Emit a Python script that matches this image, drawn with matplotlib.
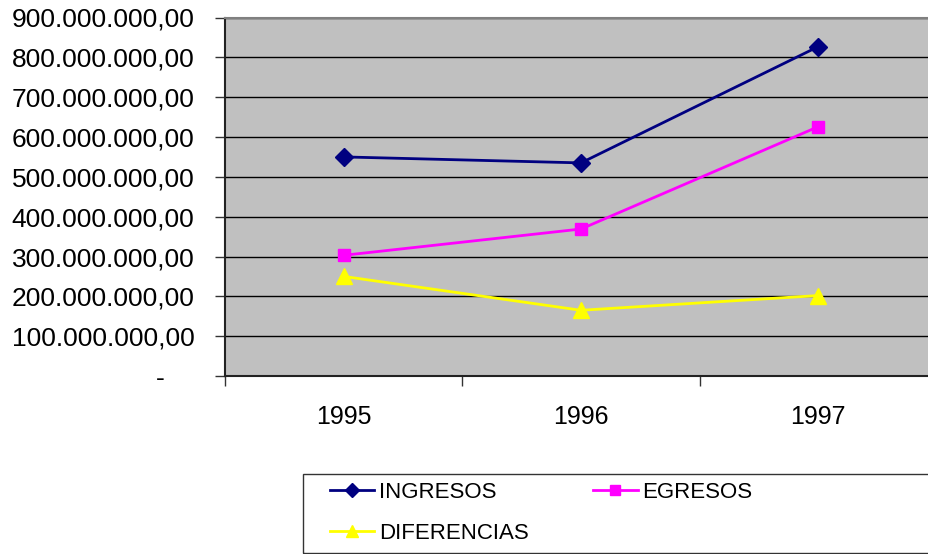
import numpy as np
import matplotlib.pyplot as plt
from matplotlib.patches import Rectangle
from matplotlib.ticker import FuncFormatter, FixedLocator

# -----------------------------------------------------------------------
# Data
# -----------------------------------------------------------------------
years = ['1995', '1996', '1997']
ingresos = [550e6, 535e6, 827e6]
egresos = [303e6, 369e6, 626e6]
diferencias = [250e6, 165e6, 202e6]

plt.rcParams['font.family'] = ['Liberation Sans', 'DejaVu Sans']

W, H = 929, 554
fig = plt.figure(figsize=(W / 100, H / 100), dpi=100)

# plot area runs slightly past the right edge, as in the reference
left, right, top, bottom = 225, 937, 17.5, 376
ax = fig.add_axes([left / W, 1 - bottom / H, (right - left) / W, (bottom - top) / H])
ax.set_facecolor('#C0C0C0')

x = np.arange(len(years))
l1, = ax.plot(x, ingresos, color='#000080', lw=2, marker='D', ms=9, label='INGRESOS')
l2, = ax.plot(x, egresos, color='#FF00FF', lw=2, marker='s', ms=9, label='EGRESOS')
l3, = ax.plot(x, diferencias, color='#FFFF00', lw=2, marker='^', ms=11, label='DIFERENCIAS')

ax.set_xlim(-0.5, len(years) - 0.5)
ax.set_ylim(0, 900e6)
ax.set_yticks(np.arange(0, 901e6, 100e6))


def fmt(v, pos):
    if v == 0:
        return '-    '
    s = f'{v:,.2f}'
    return s.replace(',', 'X').replace('.', ',').replace('X', '.')


ax.yaxis.set_major_formatter(FuncFormatter(fmt))
ax.grid(axis='y', color='black', lw=1)
ax.set_axisbelow(True)

ax.set_xticks(x)
ax.set_xticklabels(years)
ax.xaxis.set_minor_locator(FixedLocator(np.arange(-0.5, len(years), 1.0)))
ax.tick_params(axis='x', which='major', length=0, pad=21, labelsize=18)
ax.tick_params(axis='x', which='minor', length=7, width=1, direction='out', color='#333333')
ax.tick_params(axis='y', length=7, width=1, direction='out', labelsize=19, pad=15, color='#333333')

for side in ['left', 'bottom']:
    ax.spines[side].set_color('#222222')
    ax.spines[side].set_linewidth(1.5)
ax.spines['top'].set_color('#808080')
ax.spines['top'].set_linewidth(1.5)
ax.spines['right'].set_visible(False)

# legend box (runs off the right edge like the plot area)
fig.patches.append(Rectangle((303 / W, 1 - 553 / H), (940 - 303) / W, (553 - 474) / H,
                             transform=fig.transFigure, fill=False,
                             edgecolor='#333333', lw=1))

# row-major order: INGRESOS, EGRESOS / DIFERENCIAS
fig.legend([l1, l3, l2], ['INGRESOS', 'DIFERENCIAS', 'EGRESOS'],
           loc='upper left', bbox_to_anchor=(330 / W, 1 - 482 / H),
           ncol=2, fontsize=16, frameon=False,
           handlelength=2.0, handletextpad=0.2, borderaxespad=0, borderpad=0,
           labelspacing=0.9, columnspacing=2.9, markerscale=0.8)

fig.savefig('out.png', dpi=100)
